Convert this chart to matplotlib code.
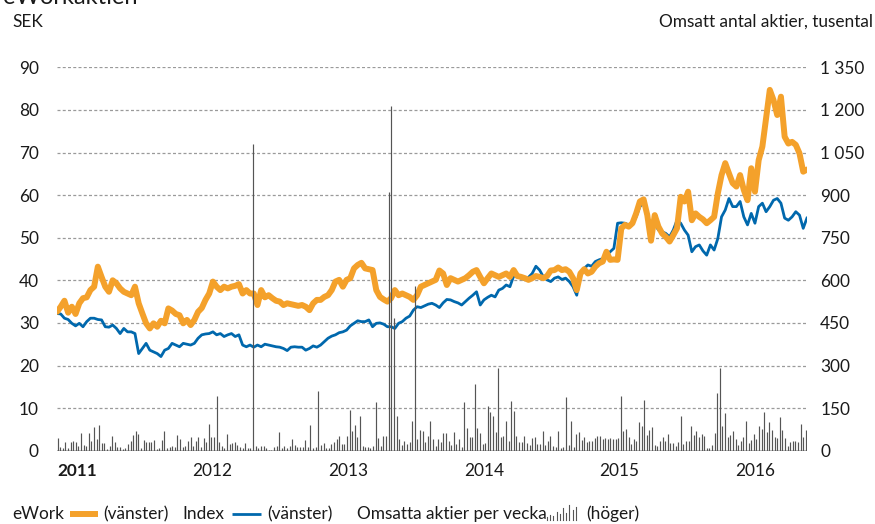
import numpy as np
import matplotlib
matplotlib.use("Agg")
import matplotlib.pyplot as plt
from matplotlib.lines import Line2D

plt.rcParams['font.family'] = ['Lato', 'DejaVu Sans']

# ---- data ----
# line series sampled every 10 days from 2011-01-01
ework = [
    32.6, 33.8, 35.2, 32.4, 33.8, 32.1, 34.6, 35.8, 36.0, 37.7,
    38.5, 43.2, 40.8, 38.5, 37.3, 40.0, 39.3, 38.1, 37.3, 36.9,
    36.5, 38.5, 34.6, 32.2, 29.9, 28.7, 29.9, 29.1, 30.5, 29.9,
    33.4, 32.9, 32.1, 31.8, 29.9, 30.7, 29.5, 30.7, 32.6, 33.5,
    35.4, 36.9, 39.7, 38.5, 37.7, 38.5, 38.1, 38.5, 38.7, 39.1,
    36.9, 37.7, 36.9, 36.9, 34.2, 37.7, 36.0, 36.5, 35.8, 35.2,
    35.0, 34.2, 34.6, 34.4, 34.2, 34.0, 34.2, 33.8, 33.0, 34.6,
    35.4, 35.4, 36.1, 36.5, 37.7, 39.7, 40.1, 38.5, 40.1, 40.5,
    42.8, 43.6, 44.1, 42.8, 42.6, 42.4, 37.7, 36.1, 35.5, 35.0,
    35.8, 37.7, 36.5, 36.9, 36.5, 36.1, 35.4, 36.5, 38.5, 38.9,
    39.3, 39.7, 40.1, 42.3, 41.6, 38.9, 40.5, 40.1, 39.7, 40.1,
    40.5, 41.2, 42.0, 42.4, 40.8, 39.3, 40.5, 41.6, 41.2, 40.8,
    41.2, 41.6, 40.8, 42.4, 41.0, 40.8, 40.5, 40.1, 40.5, 41.0,
    40.8, 40.5, 41.0, 42.3, 42.4, 43.0, 42.4, 42.6, 42.0, 40.5,
    37.7, 41.6, 42.6, 41.6, 42.0, 43.2, 44.0, 44.4, 46.7, 44.8,
    44.9, 44.8, 52.2, 53.0, 52.6, 53.4, 55.7, 58.5, 59.0, 55.3,
    49.3, 55.3, 52.6, 51.0, 50.2, 49.1, 50.6, 52.2, 59.6, 58.5,
    60.8, 54.1, 55.7, 54.9, 54.3, 53.4, 54.1, 54.9, 60.4, 64.7,
    67.5, 65.1, 62.8, 62.0, 64.7, 61.2, 58.8, 66.3, 60.8, 68.2,
    71.4, 78.0, 84.7, 82.3, 78.8, 83.1, 73.7, 72.1, 72.5, 71.8,
    69.8, 65.5, 66.0,
]
index_vals = [
    32.2, 32.1, 31.1, 30.8, 29.9, 29.3, 29.9, 29.1, 30.3, 31.1,
    31.1, 30.8, 30.7, 29.1, 29.0, 29.5, 28.7, 27.5, 28.7, 27.9,
    27.9, 27.5, 22.8, 24.0, 25.2, 23.6, 23.2, 22.8, 22.1, 23.6,
    24.0, 25.2, 24.8, 24.4, 25.2, 25.0, 24.8, 25.2, 26.4, 27.2,
    27.4, 27.5, 27.9, 27.2, 27.5, 26.8, 27.2, 27.5, 26.8, 27.2,
    24.8, 24.4, 24.8, 24.3, 24.8, 24.4, 25.0, 24.8, 24.6, 24.4,
    24.3, 24.0, 23.5, 24.3, 24.4, 24.3, 24.3, 23.6, 24.0, 24.6,
    24.3, 24.8, 25.6, 26.4, 26.9, 27.2, 27.7, 27.9, 28.3, 29.3,
    29.9, 30.5, 30.3, 30.3, 30.7, 29.1, 29.9, 30.0, 29.7, 29.1,
    29.1, 28.7, 29.9, 30.3, 31.1, 31.6, 33.0, 33.8, 33.6, 34.0,
    34.4, 34.6, 34.2, 33.6, 34.7, 35.5, 35.4, 35.0, 34.7, 34.2,
    35.0, 35.8, 36.5, 37.3, 34.2, 35.4, 36.0, 36.5, 36.1, 37.7,
    38.1, 38.9, 38.5, 41.0, 41.0, 40.5, 40.1, 40.7, 41.6, 43.3,
    42.4, 40.8, 40.1, 39.7, 40.5, 40.8, 40.2, 40.5, 39.7, 38.5,
    36.5, 41.6, 42.8, 43.6, 43.3, 44.4, 44.8, 45.1, 45.9, 46.7,
    47.5, 53.4, 53.5, 53.4, 53.0, 53.4, 54.9, 57.3, 58.1, 54.9,
    53.3, 53.3, 51.8, 51.4, 51.0, 50.2, 51.8, 54.1, 53.4, 51.8,
    50.6, 46.7, 47.9, 48.3, 46.9, 45.9, 48.3, 47.1, 49.8, 54.9,
    56.5, 59.2, 57.3, 57.3, 58.5, 54.9, 53.0, 55.7, 53.4, 57.3,
    58.1, 56.1, 57.3, 58.8, 59.2, 58.1, 54.6, 54.1, 54.9, 56.1,
    55.3, 52.2, 54.6,
]
# weekly traded shares, thousands
vol_2011 = [45, 12, 9, 29, 8, 29, 35, 29, 18, 64, 21, 18, 61, 33, 82, 41, 90, 26, 26, 6,
            18, 53, 29, 12, 14, 6, 9, 23, 33, 56, 70, 59, 10, 37, 29, 29, 29, 37, 6, 9,
            37, 68, 8, 14, 18, 12, 56, 41, 14, 18, 33, 47]
vol_2012 = [18, 33, 47, 12, 45, 29, 94, 49, 49, 194, 29, 18, 9, 59, 23, 26, 29, 21, 12, 10,
            26, 9, 8, 1080, 16, 9, 16, 16, 9, 4, 2, 12, 16, 65, 9, 16, 9, 16, 41, 21,
            12, 12, 12, 38, 14, 92, 9, 14, 211, 21, 26, 10]
vol_2013 = [9, 23, 29, 41, 53, 23, 23, 53, 143, 70, 92, 47, 123, 18, 14, 12, 10, 18, 170, 45,
            15, 52, 53, 912, 1214, 466, 123, 41, 21, 33, 23, 29, 106, 580, 41, 73, 70, 29, 53, 106,
            41, 18, 41, 29, 61, 61, 33, 21, 65, 23, 41, 12]
vol_2014 = [173, 80, 47, 47, 235, 79, 61, 23, 28, 158, 135, 123, 65, 291, 49, 53, 103, 35, 174, 139,
            53, 29, 29, 53, 26, 21, 45, 49, 23, 23, 70, 21, 33, 53, 16, 12, 70, 10, 14, 190,
            21, 106, 14, 59, 65, 38, 47, 29, 33, 33, 45, 53]
vol_2015 = [53, 41, 45, 41, 45, 41, 41, 45, 194, 70, 76, 47, 23, 41, 35, 100, 88, 178, 56, 73,
            85, 21, 18, 33, 47, 35, 59, 26, 26, 15, 29, 123, 23, 33, 35, 88, 56, 70, 47, 59,
            53, 9, 10, 21, 61, 202, 291, 88, 131, 47, 56, 70]
vol_2016 = [41, 21, 35, 47, 106, 26, 38, 59, 41, 88, 76, 135, 65, 100, 73, 47, 45, 117, 73, 45,
            15, 29, 35, 33, 29, 94, 47, 73]
volume = vol_2011 + vol_2012 + vol_2013 + vol_2014 + vol_2015 + vol_2016

years = [2011, 2012, 2013, 2014, 2015, 2016]
left_ticks = [0, 10, 20, 30, 40, 50, 60, 70, 80, 90]
right_ticks = [0, 150, 300, 450, 600, 750, 900, 1050, 1200, 1350]
right_labels = ['0', '150', '300', '450', '600', '750', '900', '1 050', '1 200', '1 350']
legend_icon_heights = [3, 5, 4, 8, 6, 12, 7, 15, 10, 13]

LINE_STEP_DAYS = 10
t_line = 2011 + np.arange(len(ework)) * LINE_STEP_DAYS / 365.25
t_vol = 2011 + (np.arange(len(volume)) + 0.2) / 52

ORANGE = '#f4a12b'
BLUE = '#0068ad'
BARC = '#555555'
TXT = '#1a1a1a'
FS = 12.4

W, H = 875, 524
fig = plt.figure(figsize=(W / 100, H / 100), dpi=100)
ax = fig.add_axes([57 / W, (H - 450.7) / H, 750 / W, (450.7 - 67.3) / H])
ax2 = ax.twinx()

ax.set_xlim(2011.0, 2016.531)
ax.set_ylim(0, 90)
ax2.set_ylim(0, 1350)

for v in left_ticks[1:]:
    ax.axhline(v, color='#9a9a9a', lw=0.9, ls=(0, (2.4, 1.8)), zorder=0)
ax.axhline(0, color='#a8a8a8', lw=1.8, zorder=1)

ax.plot(t_line, index_vals, color=BLUE, lw=2.0, zorder=3, solid_joinstyle='round')
ax.plot(t_line, ework, color=ORANGE, lw=4.3, zorder=4, solid_joinstyle='round',
        solid_capstyle='round')

ax2.vlines(t_vol, 0, volume, color=BARC, lw=0.85)

for a in (ax, ax2):
    for s in a.spines.values():
        s.set_visible(False)
    a.tick_params(length=0, labelsize=FS, colors=TXT)

ax.set_yticks(left_ticks)
ax.set_yticklabels([str(v) for v in left_ticks])
ax.tick_params(axis='y', pad=13)
ax2.set_yticks(right_ticks)
ax2.set_yticklabels(right_labels)
ax2.tick_params(axis='y', pad=9.5)

ax.set_xticks(years)
ax.set_xticklabels([str(y) for y in years])
ax.tick_params(axis='x', pad=9)
for i, lbl in enumerate(ax.get_xticklabels()):
    lbl.set_ha('left')
    if i == 0:
        lbl.set_fontweight('bold')

# heading, cut off at the top edge as in the reference
fig.text(3 / W, 1 - 4 / H, 'eWorkaktien', fontsize=17, color=TXT, va='baseline', ha='left')

fig.text(12 / W, 1 - 22 / H, 'SEK', fontsize=FS, color=TXT, va='center', ha='left')
fig.text(873 / W, 1 - 22 / H, 'Omsatt antal aktier, tusental', fontsize=FS, color=TXT,
         va='center', ha='right')

# legend
ly = 1 - 514 / H
fig.text(12 / W, ly, 'eWork', fontsize=FS, color=TXT, va='center', ha='left')
fig.add_artist(Line2D([70 / W, 98 / W], [ly, ly], color=ORANGE, lw=4.3,
                      solid_capstyle='butt', transform=fig.transFigure))
fig.text(103 / W, ly, '(vänster)', fontsize=FS, color=TXT, va='center', ha='left')
fig.text(182 / W, ly, 'Index', fontsize=FS, color=TXT, va='center', ha='left')
fig.add_artist(Line2D([232 / W, 261 / W], [ly, ly], color=BLUE, lw=2.0,
                      solid_capstyle='butt', transform=fig.transFigure))
fig.text(267 / W, ly, '(vänster)', fontsize=FS, color=TXT, va='center', ha='left')
fig.text(357 / W, ly, 'Omsatta aktier per vecka', fontsize=FS, color=TXT, va='center', ha='left')
base_y = 1 - 520 / H
for i, h in enumerate(legend_icon_heights):
    x = (547 + i * 3.2) / W
    fig.add_artist(Line2D([x, x], [base_y, base_y + h / H], color=BARC, lw=0.8,
                          transform=fig.transFigure))
fig.text(586 / W, ly, '(höger)', fontsize=FS, color=TXT, va='center', ha='left')

fig.savefig('out.png', dpi=100)
